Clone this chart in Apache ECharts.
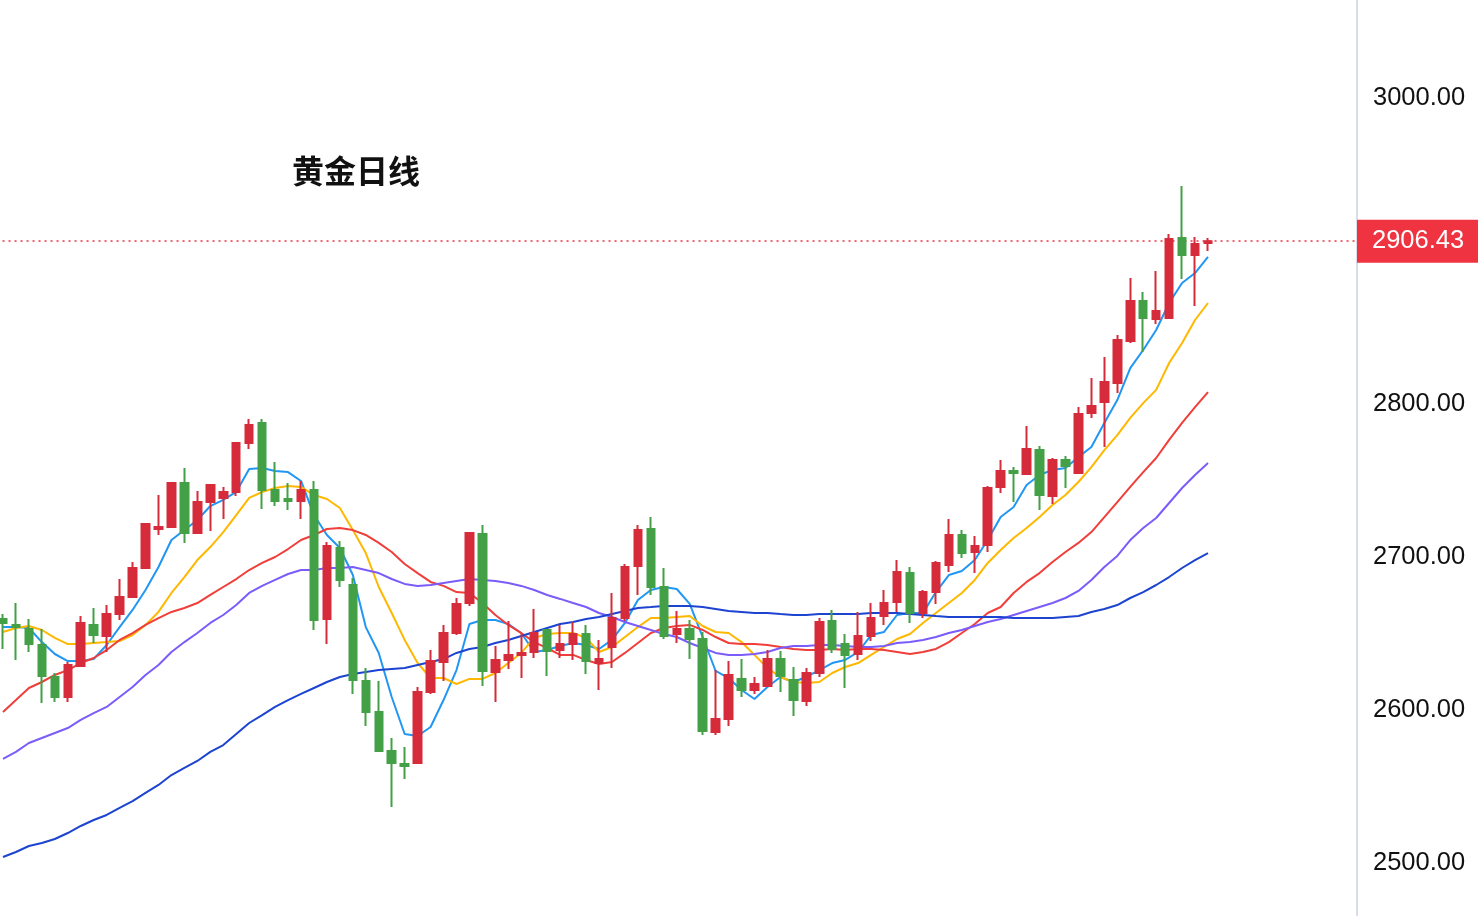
<!DOCTYPE html>
<html>
<head>
<meta charset="utf-8">
<script src="https://cdn.jsdelivr.net/npm/echarts@6/dist/echarts.min.js"></script>
<style>
html,body{margin:0;padding:0;background:#fff;}
#chart{width:1478px;height:916px;}
</style>
</head>
<body>
<div id="chart"></div>
<script>
const titleText = '黄金日线';
const lastPrice = 2906.43;
const yTicks = [2500, 2600, 2700, 2800, 3000];

const categories = ['1','2','3','4','5','6','7','8','9','10','11','12','13','14','15','16','17','18','19','20',
'21','22','23','24','25','26','27','28','29','30','31','32','33','34','35','36','37','38','39','40',
'41','42','43','44','45','46','47','48','49','50','51','52','53','54','55','56','57','58','59','60',
'61','62','63','64','65','66','67','68','69','70','71','72','73','74','75','76','77','78','79','80',
'81','82','83','84','85','86','87','88','89','90','91','92','93','94','95','96','97','98','99','100',
'101','102','103','104','105'];

const openP = [2659.5,2655.6,2652.9,2642.5,2621.6,2608.5,2628.8,2655.6,2648.4,2662.7,
2673.9,2692.8,2718.3,2719.6,2748.4,2715.7,2735.9,2738.6,2742.5,2774.5,
2787.6,2743.8,2737.9,2736.6,2743.8,2659.5,2705.9,2681.7,2619.0,2598.7,
2573.2,2564.7,2565.4,2611.8,2631.4,2650.3,2669.9,2715.0,2624.8,2632.7,
2636.0,2637.9,2652.3,2639.2,2643.1,2649.7,2630.7,2641.2,2660.1,2694.1,
2718.3,2680.4,2649.7,2652.9,2646.4,2585.6,2594.1,2620.3,2613.1,2615.7,
2633.3,2619.6,2605.9,2624.2,2658.2,2643.1,2636.6,2648.4,2661.4,2670.6,
2689.5,2663.4,2677.1,2694.8,2714.4,2703.3,2707.8,2745.8,2756.2,2754.3,
2769.9,2739.9,2763.4,2754.9,2794.1,2801.3,2813.7,2841.2,2867.3,2855.6,
2856.2,2908.5,2897.4,2905.2];
const closeP = [2656.9,2654.2,2643.1,2622.2,2608.5,2629.4,2656.9,2649.0,2662.7,2673.9,
2692.8,2721.6,2719.6,2748.4,2715.7,2735.9,2747.1,2742.5,2774.5,2786.3,
2743.8,2736.6,2736.6,2743.8,2658.8,2707.2,2685.0,2619.6,2598.7,2573.2,
2565.4,2563.4,2611.8,2632.0,2650.3,2669.3,2715.7,2625.5,2632.7,2636.0,
2637.3,2650.3,2638.6,2643.1,2649.7,2632.0,2633.3,2660.1,2693.5,2717.6,
2680.4,2648.4,2652.9,2646.4,2586.3,2594.1,2622.9,2613.1,2617.0,2633.3,
2622.2,2606.5,2624.2,2657.5,2639.9,2636.0,2648.4,2660.1,2669.9,2690.2,
2663.4,2677.1,2696.1,2714.4,2702.6,2707.2,2745.1,2756.2,2754.9,2770.6,
2740.5,2763.4,2759.5,2793.5,2798.7,2814.4,2841.8,2867.3,2856.2,2860.8,
2907.8,2897.4,2904.6,2906.43];
const lowP = [2639.9,2632.7,2637.9,2604.6,2605.2,2605.2,2628.1,2643.8,2637.9,2658.8,
2673.2,2692.2,2714.4,2719.0,2709.2,2715.0,2717.0,2724.8,2739.9,2770.6,
2731.4,2733.3,2730.7,2724.8,2652.3,2643.1,2680.4,2610.5,2589.5,2572.5,
2536.6,2554.9,2564.7,2610.5,2619.0,2649.0,2668.0,2615.7,2605.2,2626.8,
2620.9,2634.0,2622.2,2634.0,2632.7,2623.5,2613.1,2627.4,2658.2,2675.2,
2675.2,2646.4,2643.8,2633.3,2583.7,2583.7,2589.5,2608.5,2610.5,2615.0,
2611.8,2596.1,2602.6,2621.6,2637.3,2614.4,2632.7,2645.1,2655.6,2664.1,
2656.9,2660.1,2669.3,2690.2,2699.4,2689.5,2703.3,2741.8,2735.9,2753.6,
2730.7,2734.6,2745.1,2754.5,2790.9,2771.9,2807.2,2839.9,2834.0,2852.3,
2855.6,2881.7,2864.1,2900.0];
const highP = [2662.7,2669.9,2659.5,2652.9,2624.2,2631.4,2661.4,2666.7,2668.6,2685.6,
2696.7,2722.2,2740.5,2749.0,2758.2,2743.1,2747.7,2745.8,2775.0,2790.2,
2790.2,2762.1,2748.4,2749.7,2749.7,2709.8,2710.5,2686.3,2627.4,2619.0,
2581.7,2575.8,2615.0,2639.2,2655.6,2673.2,2716.3,2720.9,2641.8,2658.2,
2649.7,2666.0,2652.9,2655.6,2657.5,2655.6,2645.8,2676.5,2695.4,2720.9,
2726.1,2692.8,2664.7,2658.8,2651.0,2626.1,2632.0,2633.3,2621.6,2639.2,
2638.6,2628.1,2627.4,2660.1,2665.4,2649.7,2664.1,2669.9,2678.4,2698.0,
2693.5,2678.4,2697.4,2724.8,2717.6,2713.7,2746.4,2763.4,2758.8,2785.6,
2772.6,2764.7,2766.0,2798.0,2817.0,2830.7,2845.1,2882.4,2873.2,2886.9,
2911.1,2942.5,2909.2,2908.5];

const ma5 = [2654.2,2654.2,2653.6,2644.4,2636.6,2632.0,2632.0,2633.3,2642.5,2654.2,
2665.4,2678.4,2693.5,2711.1,2717.6,2724.2,2733.3,2737.3,2742.5,2757.5,
2758.2,2756.2,2755.5,2749.7,2727.4,2714.4,2705.9,2688.2,2654.2,2637.3,
2608.5,2584.3,2583.0,2588.9,2606.5,2626.1,2656.2,2658.8,2658.8,2656.2,
2650.3,2637.9,2639.2,2641.8,2643.8,2642.5,2639.9,2645.8,2656.9,2671.9,
2678.4,2680.4,2679.1,2669.3,2647.7,2625.5,2620.9,2613.1,2607.2,2615.0,
2621.6,2618.3,2621.6,2626.1,2630.7,2632.7,2637.9,2649.0,2651.0,2662.1,
2663.4,2663.4,2677.1,2688.2,2690.8,2698.0,2711.1,2726.1,2732.7,2747.1,
2753.6,2756.9,2758.2,2765.4,2771.9,2787.6,2802.6,2823.5,2835.3,2848.4,
2866.0,2879.1,2885.6,2896.1];
const ma10 = [2651.0,2653.6,2654.9,2652.3,2647.1,2643.1,2643.1,2643.8,2644.4,2645.1,
2649.0,2655.6,2664.1,2676.5,2686.9,2698.0,2706.5,2716.3,2727.4,2738.6,
2742.5,2745.1,2746.4,2745.8,2740.5,2737.9,2732.0,2717.6,2702.6,2680.4,
2663.4,2645.8,2630.7,2620.9,2620.9,2617.0,2620.3,2620.3,2624.2,2630.7,
2637.3,2647.1,2649.7,2650.3,2650.3,2647.1,2637.9,2641.2,2647.7,2654.2,
2660.1,2660.1,2660.8,2661.4,2654.9,2651.0,2650.3,2644.4,2636.0,2627.4,
2621.6,2618.3,2617.6,2618.3,2624.2,2628.1,2630.7,2636.0,2641.2,2646.4,
2649.7,2656.9,2663.4,2669.9,2676.5,2685.0,2696.1,2704.6,2712.4,2719.0,
2726.1,2734.0,2740.5,2749.0,2758.8,2769.9,2779.7,2790.9,2800.6,2809.2,
2826.8,2839.9,2854.9,2866.0];
const ma20 = [2598.7,2606.5,2614.4,2618.3,2622.9,2626.1,2630.7,2634.0,2639.2,2645.8,
2650.3,2655.6,2660.1,2664.1,2666.7,2669.9,2675.2,2680.4,2685.6,2691.5,
2696.1,2700.0,2705.2,2711.1,2714.4,2718.3,2718.9,2717.6,2714.4,2709.2,
2703.3,2695.4,2689.5,2683.7,2681.1,2677.1,2676.5,2669.9,2662.1,2655.6,
2650.3,2644.4,2640.5,2636.0,2636.0,2632.7,2630.1,2631.4,2637.3,2643.8,
2650.3,2653.6,2654.9,2655.6,2652.3,2647.7,2643.8,2643.1,2643.1,2642.5,
2641.2,2639.9,2639.2,2639.2,2639.9,2639.2,2639.9,2639.9,2639.2,2637.9,
2636.6,2637.9,2639.9,2644.4,2650.3,2656.2,2663.4,2667.3,2676.5,2683.7,
2689.5,2696.7,2703.3,2709.2,2716.3,2726.1,2735.9,2745.8,2755.5,2764.7,
2776.5,2787.6,2798.0,2807.8];
const ma30 = [2568.0,2572.6,2578.4,2581.7,2585.0,2588.2,2593.5,2598.0,2602.0,2608.5,
2615.0,2622.9,2629.4,2637.9,2644.4,2650.3,2656.9,2662.1,2668.6,2676.5,
2681.1,2685.0,2688.9,2691.5,2691.5,2692.8,2692.8,2693.5,2691.5,2689.5,
2685.6,2682.4,2681.1,2681.7,2683.0,2684.3,2685.6,2685.0,2684.3,2683.0,
2681.1,2678.4,2675.2,2672.6,2669.9,2667.3,2663.4,2660.8,2657.5,2654.9,
2652.3,2649.7,2647.7,2643.8,2640.5,2637.3,2636.0,2636.0,2636.6,2637.9,
2640.5,2641.8,2641.8,2642.5,2642.5,2641.8,2641.2,2641.2,2641.8,2643.8,
2644.4,2645.8,2647.7,2650.3,2652.3,2654.9,2657.5,2659.5,2662.1,2664.7,
2667.3,2669.9,2673.2,2677.8,2685.0,2693.5,2700.7,2711.1,2718.9,2725.5,
2735.3,2745.1,2753.6,2761.4];
const ma60 = [2503.9,2507.2,2511.1,2513.1,2515.7,2519.6,2524.2,2528.1,2531.4,2536.0,
2540.5,2545.8,2551.0,2557.5,2562.1,2566.7,2572.6,2577.1,2584.3,2591.5,
2596.7,2602.0,2606.5,2610.5,2614.4,2618.3,2621.6,2623.5,2624.8,2626.1,
2626.8,2627.4,2629.4,2631.4,2633.3,2637.3,2639.9,2641.2,2643.8,2645.8,
2648.4,2651.0,2653.6,2656.2,2657.5,2659.5,2660.8,2662.7,2664.7,2666.7,
2667.3,2668.0,2668.0,2668.0,2667.3,2666.0,2664.7,2664.1,2663.4,2663.4,
2662.7,2662.1,2662.1,2662.7,2662.7,2662.7,2662.7,2663.4,2663.4,2663.4,
2662.7,2662.1,2661.4,2660.8,2660.8,2660.8,2660.8,2660.8,2660.1,2660.1,
2660.1,2660.1,2660.8,2661.4,2664.1,2666.0,2668.6,2673.2,2677.1,2681.7,
2686.9,2692.8,2698.0,2702.6];

const candleData = openP.map((o, i) => [o, closeP[i], lowP[i], highP[i]]);

const UP = '#D62B3A', DOWN = '#43A047';
const maDefs = [
  {name: 'MA5', data: ma5, color: '#2196F3'},
  {name: 'MA10', data: ma10, color: '#FFB800'},
  {name: 'MA20', data: ma20, color: '#F03E3A'},
  {name: 'MA30', data: ma30, color: '#7B5CFA'},
  {name: 'MA60', data: ma60, color: '#1D44D0'}
];

const chart = echarts.init(document.getElementById('chart'), null, {renderer: 'canvas'});
const numFont = '"Liberation Sans", Arial, sans-serif';

chart.setOption({
  animation: false,
  backgroundColor: '#ffffff',
  title: {
    text: titleText,
    left: 287,
    top: 150,
    textStyle: {fontSize: 32, fontWeight: 'bold', color: '#111111', fontFamily: '"Noto Sans CJK SC", sans-serif'}
  },
  grid: {left: -3.48, right: 121, top: 0, bottom: 0, containLabel: false, outerBoundsMode: 'none'},
  xAxis: {
    type: 'category',
    data: categories,
    boundaryGap: true,
    axisLine: {show: false},
    axisTick: {show: false},
    axisLabel: {show: false},
    splitLine: {show: false}
  },
  yAxis: {
    type: 'value',
    position: 'right',
    min: 2465.36,
    max: 3064.05,
    scale: true,
    splitNumber: 5,
    axisLine: {show: true, lineStyle: {color: '#D9DDE7', width: 2}},
    axisTick: {show: false},
    splitLine: {show: false},
    axisLabel: {
      show: true,
      margin: 16,
      color: '#111111',
      fontSize: 25.5,
      fontFamily: numFont,
      padding: [4, 0, 0, 0],
      formatter: function (v) {
        for (const t of yTicks) { if (Math.abs(v - t) < 0.01) return t.toFixed(2); }
        return '';
      }
    }
  },
  series: maDefs.map(m => ({
    name: m.name,
    type: 'line',
    data: m.data,
    symbol: 'none',
    smooth: false,
    z: 2,
    lineStyle: {color: m.color, width: 2},
    itemStyle: {color: m.color}
  })).concat([{
    name: 'K',
    type: 'candlestick',
    data: candleData,
    barWidth: 8,
    z: 5,
    itemStyle: {color: UP, color0: DOWN, borderColor: UP, borderColor0: DOWN, borderWidth: 2},
    markLine: {
      silent: true,
      symbol: ['none', 'none'],
      animation: false,
      lineStyle: {color: '#EF3340', type: [2, 4], width: 1.5},
      label: {
        show: true,
        position: 'end',
        distance: 0,
        formatter: lastPrice.toFixed(2),
        color: '#ffffff',
        fontSize: 25.5,
        fontFamily: numFont,
        backgroundColor: '#EF3340',
        padding: [10, 15, 8, 15],
        lineHeight: 25
      },
      data: [{yAxis: lastPrice}]
    }
  }])
});
</script>
</body>
</html>
